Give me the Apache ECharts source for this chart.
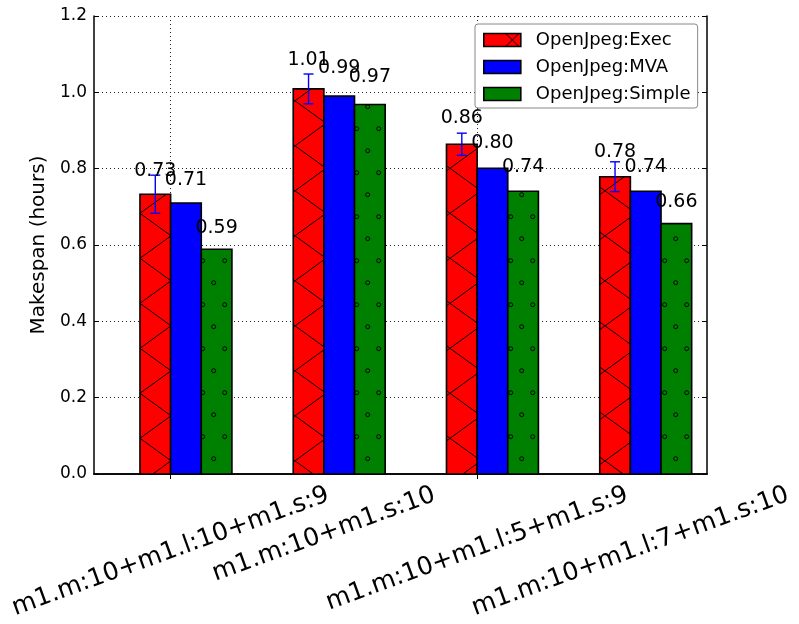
<!DOCTYPE html>
<html><head><meta charset="utf-8">
<script src="https://cdn.jsdelivr.net/npm/echarts@6/dist/echarts.min.js"></script>
<style>html,body{margin:0;padding:0;background:#fff}#c{width:799px;height:624px}</style>
</head><body><div id="c"></div><script>
const categories = ['m1.m:10+m1.l:10+m1.s:9', 'm1.m:10+m1.s:10', 'm1.m:10+m1.l:5+m1.s:9', 'm1.m:10+m1.l:7+m1.s:10'];
const seriesNames = ['OpenJpeg:Exec', 'OpenJpeg:MVA', 'OpenJpeg:Simple'];
const execValues = [0.733, 1.009, 0.864, 0.779];
const execErrors = [0.050, 0.039, 0.029, 0.039];
const mvaValues = [0.710, 0.990, 0.801, 0.741];
const simpleValues = [0.589, 0.968, 0.741, 0.656];
const yMin = 0, yMax = 1.2, yStep = 0.2;

const FONT = '"DejaVu Sans"';

function makeXHatch() {
  const W = 62, H = 45;
  const c = document.createElement('canvas'); c.width = W; c.height = H;
  const g = c.getContext('2d');
  g.fillStyle = '#ff0000'; g.fillRect(0, 0, W, H);
  g.strokeStyle = '#000'; g.lineWidth = 1;
  const cx = 16, cy = 33.3, k = H / W;
  for (let o = -3; o <= 3; o++) {
    g.beginPath(); g.moveTo(cx + o * W - 300, cy - 300 * k); g.lineTo(cx + o * W + 300, cy + 300 * k); g.stroke();
    g.beginPath(); g.moveTo(cx + o * W - 300, cy + 300 * k); g.lineTo(cx + o * W + 300, cy - 300 * k); g.stroke();
  }
  return c;
}
function makeLegendX() {
  const W = 37, H = 13;
  const c = document.createElement('canvas'); c.width = W; c.height = H;
  const g = c.getContext('2d');
  g.fillStyle = '#ff0000'; g.fillRect(0, 0, W, H);
  g.strokeStyle = '#000'; g.lineWidth = 1;
  const cx = 28.5;
  for (let o = -1; o <= 1; o++) {
    g.beginPath(); g.moveTo(cx + o * W - 6.5, 0); g.lineTo(cx + o * W + 6.5, 13); g.stroke();
    g.beginPath(); g.moveTo(cx + o * W + 6.5, 0); g.lineTo(cx + o * W - 6.5, 13); g.stroke();
  }
  return c;
}
function makeCircles() {
  const W = 22, H = 44;
  const c = document.createElement('canvas'); c.width = W; c.height = H;
  const g = c.getContext('2d');
  g.fillStyle = '#008000'; g.fillRect(0, 0, W, H);
  g.strokeStyle = '#000'; g.lineWidth = 1;
  const pts = [[4.7, 40.7], [15.7, 18.7]];
  for (const p of pts) for (let dx = -1; dx <= 1; dx++) for (let dy = -1; dy <= 1; dy++) {
    g.beginPath(); g.arc(p[0] + dx * W, p[1] + dy * H, 2, 0, Math.PI * 2); g.stroke();
  }
  return c;
}
const fills = [
  { image: makeXHatch(), repeat: 'repeat' },
  '#0000ff',
  { image: makeCircles(), repeat: 'repeat' }
];
const legendFills = [{ image: makeLegendX(), repeat: 'repeat' }, '#0000ff', '#008000'];
const allValues = [execValues, mvaValues, simpleValues];
const EDGE = 1.6;

function barSeries(s) {
  return {
    type: 'custom', name: seriesNames[s], xAxisIndex: 0, yAxisIndex: 0, z: 3,
    itemStyle: { color: fills[s], borderColor: '#000', borderWidth: EDGE },
    data: allValues[s].map((v, i) => [i, v]),
    renderItem: function (params, api) {
      const i = api.value(0), v = api.value(1);
      const base = api.coord([i, 0]), top = api.coord([i, v]);
      const w = api.size([1, 0])[0] * 0.2;
      const x0 = base[0] + (s - 1) * w;
      return { type: 'rect', shape: { x: x0, y: top[1], width: w, height: base[1] - top[1] },
        style: { fill: fills[s], stroke: '#000', lineWidth: EDGE } };
    }
  };
}
const labelData = [];
allValues.forEach((arr, s) => arr.forEach((v, i) => labelData.push([i, v, s])));

const measureCtx = document.createElement('canvas').getContext('2d');
function textWidth(t, font) { measureCtx.font = font; return measureCtx.measureText(t).width; }

const chart = echarts.init(document.getElementById('c'), null, { renderer: 'canvas' });
chart.setOption({
  animation: false,
  backgroundColor: '#fff',
  textStyle: { fontFamily: FONT, color: '#000' },
  grid: { left: 94, top: 16, width: 613, height: 458, outerBoundsMode: 'none', containLabel: false },
  legend: {
    orient: 'vertical', left: 475, top: 24, icon: 'rect',
    itemWidth: 37, itemHeight: 13, itemGap: 9,
    padding: [7, 7, 5, 8], backgroundColor: '#fff', borderColor: '#888', borderWidth: 1, borderRadius: 3,
    textStyle: { fontSize: 18, fontFamily: FONT, color: '#000', padding: [0, 0, 0, 10] },
    data: seriesNames.map((n, s) => ({ name: n, itemStyle: { color: legendFills[s], borderColor: '#000', borderWidth: EDGE } }))
  },
  xAxis: [
    { type: 'category', data: categories, position: 'bottom', boundaryGap: true,
      axisLine: { show: true, lineStyle: { color: '#000', width: 1.5 } },
      axisTick: { show: true, inside: true, length: 5, alignWithLabel: true, lineStyle: { color: '#000' } },
      axisLabel: { show: false },
      splitLine: { show: true, alignWithLabel: true, lineStyle: { color: '#222', width: 1, type: [1, 3] } } },
    { type: 'category', data: categories, position: 'top', boundaryGap: true,
      axisLine: { show: true, lineStyle: { color: '#000', width: 1.5 } },
      axisTick: { show: true, inside: true, length: 5, alignWithLabel: true, lineStyle: { color: '#000' } },
      axisLabel: { show: false }, splitLine: { show: false } }
  ],
  yAxis: [
    { type: 'value', min: yMin, max: yMax, interval: yStep, position: 'left',
      name: 'Makespan (hours)', nameLocation: 'middle', nameGap: 44,
      nameTextStyle: { fontSize: 20, fontFamily: FONT, color: '#000' },
      axisLine: { show: true, lineStyle: { color: '#000', width: 1.5 } },
      axisTick: { show: true, inside: true, length: 5, lineStyle: { color: '#000' } },
      axisLabel: { fontSize: 17, fontFamily: FONT, color: '#000', margin: 7, formatter: v => v.toFixed(1) },
      splitLine: { show: true, lineStyle: { color: '#222', width: 1, type: [1, 3] } } },
    { type: 'value', min: yMin, max: yMax, interval: yStep, position: 'right',
      axisLine: { show: true, lineStyle: { color: '#000', width: 1.5 } },
      axisTick: { show: true, inside: true, length: 5, lineStyle: { color: '#000' } },
      axisLabel: { show: false }, splitLine: { show: false } }
  ],
  series: [
    barSeries(0), barSeries(1), barSeries(2),
    { type: 'custom', name: 'errors', xAxisIndex: 0, yAxisIndex: 0, z: 5,
      data: execValues.map((v, i) => [i, v, execErrors[i]]),
      renderItem: function (params, api) {
        const i = api.value(0), v = api.value(1), e = api.value(2);
        const w = api.size([1, 0])[0] * 0.2;
        const base = api.coord([i, 0]);
        const x = base[0] - w / 2;
        const lo = api.coord([i, v - e])[1], hi = api.coord([i, v + e])[1];
        const st = { stroke: '#0000ff', lineWidth: 1.4 };
        return { type: 'group', children: [
          { type: 'line', shape: { x1: x, y1: lo, x2: x, y2: hi }, style: st },
          { type: 'line', shape: { x1: x - 5, y1: lo, x2: x + 5, y2: lo }, style: st },
          { type: 'line', shape: { x1: x - 5, y1: hi, x2: x + 5, y2: hi }, style: st }
        ] };
      } },
    { type: 'custom', name: 'labels', xAxisIndex: 0, yAxisIndex: 0, z: 6,
      data: labelData,
      renderItem: function (params, api) {
        const i = api.value(0), v = api.value(1), s = api.value(2);
        const w = api.size([1, 0])[0] * 0.2;
        const base = api.coord([i, 0]);
        const x = base[0] + (s - 1) * w + w / 2;
        const y = api.coord([i, v * 1.05])[1];
        return { type: 'text', x: x, y: y,
          style: { text: v.toFixed(2), font: '19px ' + FONT, fill: '#000', align: 'center', verticalAlign: 'bottom' } };
      } },
    { type: 'custom', name: 'xlabels', xAxisIndex: 0, yAxisIndex: 0, z: 6, clip: false,
      data: categories.map((c, i) => [i, 0]),
      renderItem: function (params, api) {
        const i = api.value(0);
        const p = api.coord([i, 0]);
        const font = '25px ' + FONT;
        const L = textWidth(categories[i], font);
        const h = 24, th = 20 * Math.PI / 180;
        const bh = L * Math.sin(th) + h * Math.cos(th);
        return { type: 'text', x: p[0], y: p[1] + 9 + bh / 2, rotation: th,
          style: { text: categories[i], font: font, fill: '#000', align: 'center', verticalAlign: 'middle' } };
      } }
  ]
});
</script></body></html>
